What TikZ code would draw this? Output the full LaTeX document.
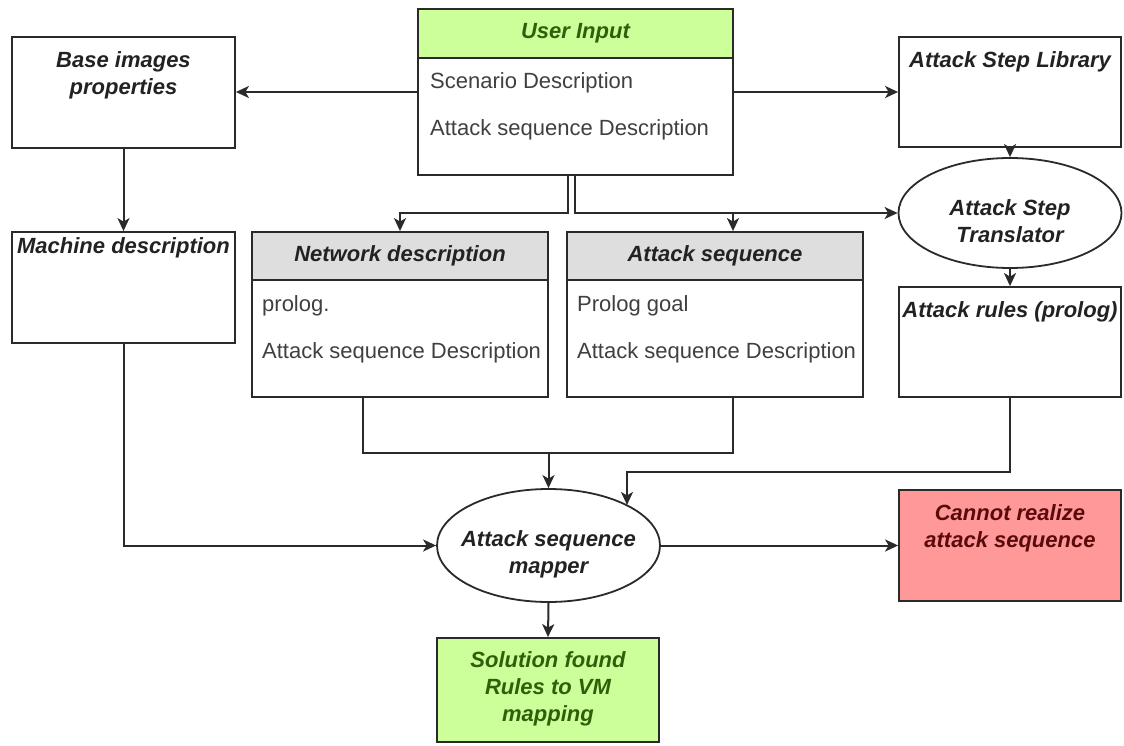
\documentclass[tikz,border=0pt]{standalone}
\usepackage{fontspec}
\setmainfont{Liberation Sans}
\usetikzlibrary{arrows.meta,shapes.geometric,calc}
\definecolor{ln}{HTML}{2A2A2A}
\definecolor{gfill}{HTML}{CCFF99}
\definecolor{gtext}{HTML}{2F5F0A}
\definecolor{rfill}{HTML}{FF9999}
\definecolor{rtext}{HTML}{5A0A0A}
\definecolor{hfill}{HTML}{DEDEDE}
\definecolor{ttext}{HTML}{222222}
\definecolor{itext}{HTML}{404040}
\begin{document}
\begin{tikzpicture}[x=1pt,y=-1pt,
  rbox/.style={draw=ln, line width=1.8pt, fill=white, inner sep=0pt},
  ebox/.style={draw=ln, line width=1.8pt, fill=white, ellipse, inner sep=0pt},
  title/.style={font=\fontsize{22}{27}\selectfont\bfseries\itshape, text=ttext, align=center, inner sep=0pt},
  item/.style={font=\fontsize{22}{27}\selectfont, text=itext, anchor=west, inner sep=0pt},
  con/.style={draw=ln, line width=2pt},
  arr/.style={con, -{Stealth[length=13pt,width=12pt,inset=3.5pt]}}]
\useasboundingbox (0,0) rectangle (1124,746);

% User input
\node[rbox, minimum width=315pt, minimum height=166pt] (ui) at (575.5,92) {};
\node[rbox, fill=gfill, minimum width=315pt, minimum height=49pt] (uih) at (575.5,33.5) {};
\node[title, text=gtext] (uit) at (575.5,33.5) {User Input};
\node[item] (ui1) at (430,83) {Scenario Description};
\node[item] (ui2) at (430,130) {Attack sequence Description};

% Left column
\node[rbox, minimum width=223pt, minimum height=111pt] (base) at (123.5,92.5) {};
\node[title] (baset) at (123.5,75.5) {Base images\\properties};
\node[rbox, minimum width=223pt, minimum height=111pt] (mach) at (123.5,287.5) {};
\node[title] (macht) at (123.5,248) {Machine description};

% Network description
\node[rbox, minimum width=296pt, minimum height=165pt] (net) at (400,314.5) {};
\node[rbox, fill=hfill, minimum width=296pt, minimum height=48pt] (neth) at (400,256) {};
\node[title] (nett) at (400,256) {Network description};
\node[item] (net1) at (262,306) {prolog.};
\node[item] (net2) at (262,353) {Attack sequence Description};

% Attack sequence
\node[rbox, minimum width=296pt, minimum height=165pt] (seq) at (715,314.5) {};
\node[rbox, fill=hfill, minimum width=296pt, minimum height=48pt] (seqh) at (715,256) {};
\node[title] (seqt) at (715,256) {Attack sequence};
\node[item] (seq1) at (577,306) {Prolog goal};
\node[item] (seq2) at (577,353) {Attack sequence Description};

% Right column
\node[rbox, minimum width=222pt, minimum height=110pt] (lib) at (1010,92) {};
\node[title] (libt) at (1010,62) {Attack Step Library};
\node[ebox, minimum width=223pt, minimum height=110pt] (trans) at (1010,213) {};
\node[title] (transt) at (1010,221.5) {Attack Step\\Translator};
\node[rbox, minimum width=222pt, minimum height=110pt] (rules) at (1010,342) {};
\node[title] (rulest) at (1010,312) {Attack rules (prolog)};

% Bottom
\node[ebox, minimum width=223pt, minimum height=113pt] (mapper) at (548.5,545.5) {};
\node[title] (mappert) at (548.5,554.5) {Attack sequence\\mapper};
\node[rbox, fill=rfill, minimum width=222pt, minimum height=111pt] (cannot) at (1010,545.5) {};
\node[title, text=rtext] (cannott) at (1010,528.5) {Cannot realize\\attack sequence};
\node[rbox, fill=gfill, minimum width=222pt, minimum height=104pt] (sol) at (548,690) {};
\node[title, text=gtext] (solt) at (548,689) {Solution found\\Rules to VM\\mapping};

% Connectors
\coordinate (hb) at (0,213);
\draw[arr] (ui.west) -- (base.east |- ui.west);
\draw[arr] (ui.east) -- (lib.west |- ui.east);
\draw[arr] (base.south) -- (mach.north);
\draw[arr] ([xshift=-8pt]ui.south) |- (net.north |- hb) -- (net.north);
\draw[arr] ([xshift=-0.5pt]ui.south) |- (trans.west);
\coordinate (sq) at ([xshift=18pt]seq.north);
\draw[arr] (sq |- hb) -- (sq);
\draw[arr] (lib.south) -- (trans.north);
\draw[arr] (trans.south) -- (rules.north);
\coordinate (j) at (548.5,453);
\draw[con] ([xshift=-37pt]net.south) |- (j);
\draw[con] ([xshift=18pt]seq.south) |- (j);
\draw[arr] (j) -- (mapper.north);
\coordinate (rb) at (627,472);
\draw[arr] (rules.south) |- (rb) -- (rb |- mapper.27);
\draw[arr] (mach.south) |- (mapper.west);
\draw[arr] (mapper.east) -- (cannot.west);
\draw[arr] (mapper.south) -- (sol.north);
\end{tikzpicture}
\end{document}
